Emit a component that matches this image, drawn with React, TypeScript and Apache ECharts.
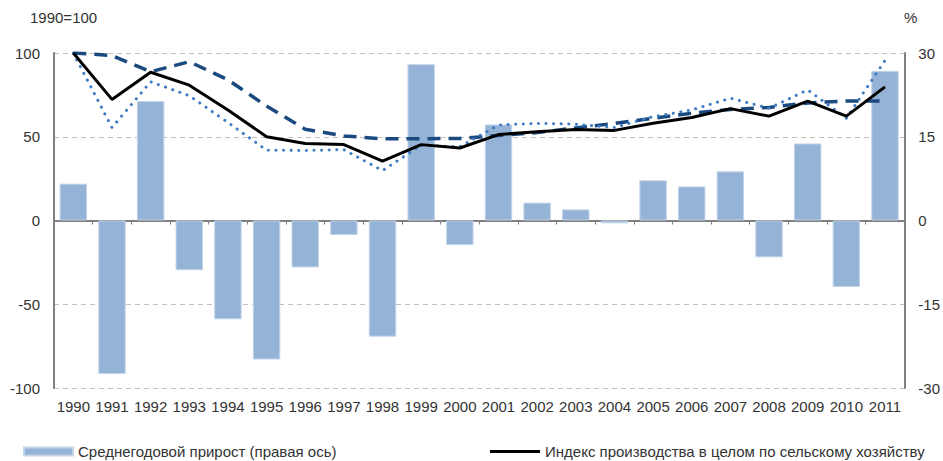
import React, { useEffect, useRef } from "react";
import * as echarts from "echarts";

const years = ["1990","1991","1992","1993","1994","1995","1996","1997","1998","1999","2000","2001","2002","2003","2004","2005","2006","2007","2008","2009","2010","2011"];
const growth = [6.6, -27.5, 21.4, -8.9, -17.7, -24.9, -8.4, -2.6, -20.8, 28.0, -4.4, 17.2, 3.2, 2.0, -0.5, 7.2, 6.1, 8.8, -6.6, 13.8, -11.9, 26.8];
const totalIndex = [100, 72.3, 88.5, 80.8, 66, 50, 46, 45.3, 35.5, 45.3, 43.3, 51.3, 53, 54.3, 53.8, 58, 61.5, 66.8, 62.3, 71.3, 62.3, 79.8];
const dashedIndex = [100, 98.5, 88.8, 94.8, 84, 68.3, 54.5, 50.5, 48.8, 48.8, 49, 50.8, 52.5, 55.3, 58, 61, 64, 66.3, 67.5, 70.2, 71.3, 71.3];
const dottedIndex = [100, 55.5, 82.8, 74.5, 58.5, 42, 41.8, 42.3, 29.8, 45, 44, 57, 58, 57.5, 55.5, 62, 66, 73, 67, 78, 61, 95.5];
const leftTicks = { min: -100, max: 100, interval: 50 };
const rightTicks = { min: -30, max: 30, interval: 15 };
const seriesNames = ["Среднегодовой прирост (правая ось)", "Индекс производства в целом по сельскому хозяйству", "Индекс (ряд 2)", "Индекс (ряд 3)"];

export default function App() {
  const ref = useRef<HTMLDivElement>(null);
  useEffect(() => {
    if (!ref.current) return;
    const chart = echarts.init(ref.current, null, { renderer: "svg" });
    const font = "Liberation Sans, Arial, sans-serif";
    chart.setOption({
      animation: false,
      textStyle: { fontFamily: font },
      grid: { left: 54, right: 36, top: 53, bottom: 73, containLabel: false },
      graphic: [
        { type: "text", left: 30, top: 10, style: { text: "1990=100", font: "15px " + font, fill: "#333" } },
        { type: "text", left: 904, top: 10, style: { text: "%", font: "15px " + font, fill: "#333" } },
      ],
      legend: [
        {
          left: 23, top: 444, padding: 0, itemWidth: 49, itemHeight: 8, itemGap: 10,
          data: [{ name: seriesNames[0], icon: "rect" }],
          textStyle: { fontSize: 15, color: "#333", fontFamily: font },
        },
        {
          left: 490, top: 444, padding: 0, itemWidth: 50, itemHeight: 3, itemGap: 10,
          data: [{ name: seriesNames[1], icon: "rect" }],
          textStyle: { fontSize: 15, color: "#333", fontFamily: font },
        },
      ],
      xAxis: [
        {
          type: "category", data: years, position: "bottom",
          axisLine: { show: false, onZero: false }, axisTick: { show: false },
          axisLabel: { fontSize: 15, color: "#333", margin: 11, interval: 0, fontFamily: font },
        },
        {
          type: "category", data: years, position: "top",
          axisLine: { show: true, onZero: true, onZeroAxisIndex: 0, lineStyle: { color: "#808080", width: 2 } },
          axisTick: { show: true, inside: true, length: 4, lineStyle: { color: "#808080", width: 1 } },
          axisLabel: { show: false },
        },
      ],
      yAxis: [
        {
          type: "value", position: "left", ...leftTicks,
          axisLine: { show: true, lineStyle: { color: "#808080", width: 2 } },
          axisTick: { show: false },
          axisLabel: { fontSize: 15, color: "#333", margin: 14, fontFamily: font },
          splitLine: { show: true, lineStyle: { color: "#c0c0c0", type: [5, 4], width: 1 } },
        },
        {
          type: "value", position: "right", ...rightTicks,
          axisLine: { show: true, lineStyle: { color: "#808080", width: 2 } },
          axisTick: { show: false },
          axisLabel: { fontSize: 15, color: "#333", margin: 14, fontFamily: font },
          splitLine: { show: false },
        },
      ],
      series: [
        {
          name: seriesNames[0], type: "bar", yAxisIndex: 1, xAxisIndex: 0, data: growth,
          barCategoryGap: "29%",
          itemStyle: { color: "#95b3d7", borderColor: "#c3d4ea", borderWidth: 1 },
        },
        {
          name: seriesNames[2], type: "line", yAxisIndex: 0, data: dashedIndex, symbol: "none",
          lineStyle: { color: "#1b4a80", width: 3.5, type: [13, 8] },
          z: 3,
        },
        {
          name: seriesNames[3], type: "line", yAxisIndex: 0, data: dottedIndex, symbol: "none",
          lineStyle: { color: "#3f7cc4", width: 3, type: [0.1, 7.5], cap: "round" },
          z: 3,
        },
        {
          name: seriesNames[1], type: "line", yAxisIndex: 0, data: totalIndex, symbol: "none",
          lineStyle: { color: "#000", width: 3 }, itemStyle: { color: "#000" },
          z: 4,
        },
      ],
    });
    return () => chart.dispose();
  }, []);
  return <div ref={ref} style={{ width: 943, height: 461, position: "absolute", left: 0, top: 0 }} />;
}
